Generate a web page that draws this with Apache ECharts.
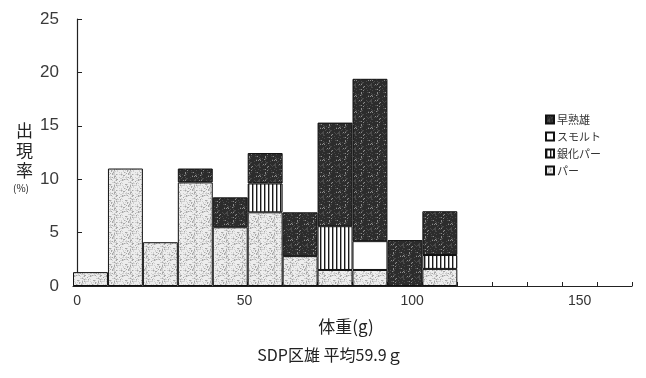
<!DOCTYPE html>
<html><head><meta charset="utf-8">
<script src="https://cdn.jsdelivr.net/npm/echarts@6/dist/echarts.min.js"></script>
<style>html,body{margin:0;padding:0;background:#fff}#c{width:646px;height:378px}</style>
</head><body><div id="c"></div>
<script>
// bins of 10 g: 0-10, 10-20, ... 150-160
const bins = ['0','10','20','30','40','50','60','70','80','90','100','110','120','130','140','150'];
const parr     = [1.3, 11.0, 4.1, 9.7, 5.5, 6.9, 2.8, 1.5, 1.5, null, 1.6, null, null, null, null, null];
const silvery  = [null, null, null, null, null, 2.7, null, 4.1, null, null, 1.3, null, null, null, null, null];
const smolt    = [null, null, null, null, null, null, null, null, 2.7, null, null, null, null, null, null, null];
const precoc   = [null, null, null, 1.3, 2.8, 2.85, 4.1, 9.7, 15.2, 4.3, 4.1, null, null, null, null, null];
const xTickLabels = [0, 50, 100, 150];
const yTicks = {min: 0, max: 25, interval: 5};
const names = {precoc: '早熟雄', smolt: 'スモルト', silvery: '銀化パー', parr: 'パー'};

function hash(i, j) { let h = (i * 374761393 + j * 668265263) | 0; h = (h ^ (h >>> 13)) * 1274126177 | 0; return ((h ^ (h >>> 16)) >>> 0) / 4294967296; }
function makePattern(kind) {
  const c = document.createElement('canvas');
  const n = kind === 'stripe' ? 4 : 16;
  c.width = n; c.height = n;
  const g = c.getContext('2d');
  if (kind === 'stripe') {
    g.fillStyle = '#fff'; g.fillRect(0, 0, n, n);
    g.fillStyle = '#1a1a1a'; g.fillRect(0, 0, 1.4, n);
  } else if (kind === 'dark') {
    g.fillStyle = '#2c2c2c'; g.fillRect(0, 0, n, n);
    for (let i = 0; i < n; i++) for (let j = 0; j < n; j++) {
      const v = hash(i, j);
      if (v < 0.18) { g.fillStyle = v < 0.06 ? '#8a8a8a' : '#4a4a4a'; g.fillRect(i, j, 1, 1); }
    }
  } else {
    g.fillStyle = '#ededed'; g.fillRect(0, 0, n, n);
    for (let i = 0; i < n; i++) for (let j = 0; j < n; j++) {
      const v = hash(i + 7, j + 3);
      if (v < 0.35) { g.fillStyle = v < 0.12 ? '#a8a8a8' : '#cfcfcf'; g.fillRect(i, j, 1, 1); }
    }
  }
  return {image: c, repeat: 'repeat'};
}

const font = '"Noto Sans CJK JP", "Liberation Sans", sans-serif';
const chart = echarts.init(document.getElementById('c'), null, {renderer: 'canvas'});
function barSeries(key, data, fill) {
  return {
    name: names[key], type: 'bar', stack: 'total', data: data,
    barWidth: '100%', barCategoryGap: '0%',
    itemStyle: {color: fill, borderColor: '#111', borderWidth: 1},
    emphasis: {disabled: true}, animation: false
  };
}
chart.setOption({
  animation: false,
  backgroundColor: '#fff',
  textStyle: {fontFamily: font},
  grid: {left: 73, right: 14, top: 19, bottom: 92, containLabel: false},
  legend: {
    orient: 'vertical', left: 540, top: 109, itemWidth: 8, itemHeight: 8, itemGap: 6,
    icon: 'rect',
    data: [names.precoc, names.smolt, names.silvery, names.parr],
    textStyle: {fontSize: 11, color: '#333', fontFamily: font, padding: [0, 0, 0, -2]},
    selectedMode: false
  },
  xAxis: [{
    type: 'category', data: bins, boundaryGap: true,
    axisLine: {lineStyle: {color: '#222', width: 1.2}},
    axisTick: {show: true, inside: true, length: 4, interval: 0, lineStyle: {color: '#222'}},
    axisLabel: {show: false}, splitLine: {show: false}
  }, {
    type: 'value', min: -1.2, max: 165.6, position: 'bottom',
    axisLine: {show: false}, axisTick: {show: false}, splitLine: {show: false},
    axisLabel: {customValues: xTickLabels, margin: 8, fontSize: 14, color: '#333', fontFamily: '"Liberation Sans", sans-serif'}
  }],
  yAxis: {
    type: 'value', min: yTicks.min, max: yTicks.max, interval: yTicks.interval,
    axisLine: {show: true, lineStyle: {color: '#222', width: 1.2}},
    axisTick: {show: true, inside: true, length: 5, lineStyle: {color: '#222'}},
    axisLabel: {fontSize: 17, color: '#3a3a3a', margin: 14, fontFamily: '"Liberation Sans", sans-serif'},
    splitLine: {show: false}
  },
  graphic: [
    {type: 'text', left: 16, top: 121, style: {text: '出\n現\n率', font: '17px ' + font, fill: '#222', lineHeight: 20}},
    {type: 'text', left: 13, top: 183, style: {text: '(%)', font: '10px ' + font, fill: '#222'}},
    {type: 'text', x: 346, y: 318, style: {text: '体重(g)', font: '17px ' + font, fill: '#222', align: 'center', verticalAlign: 'top'}},
    {type: 'text', x: 330, y: 347, style: {text: 'SDP区雄 平均59.9ｇ', font: '16px ' + font, fill: '#222', align: 'center', verticalAlign: 'top'}}
  ],
  series: [
    barSeries('parr', parr, makePattern('dots')),
    barSeries('silvery', silvery, makePattern('stripe')),
    barSeries('smolt', smolt, '#ffffff'),
    barSeries('precoc', precoc, makePattern('dark'))
  ]
});
</script></body></html>
